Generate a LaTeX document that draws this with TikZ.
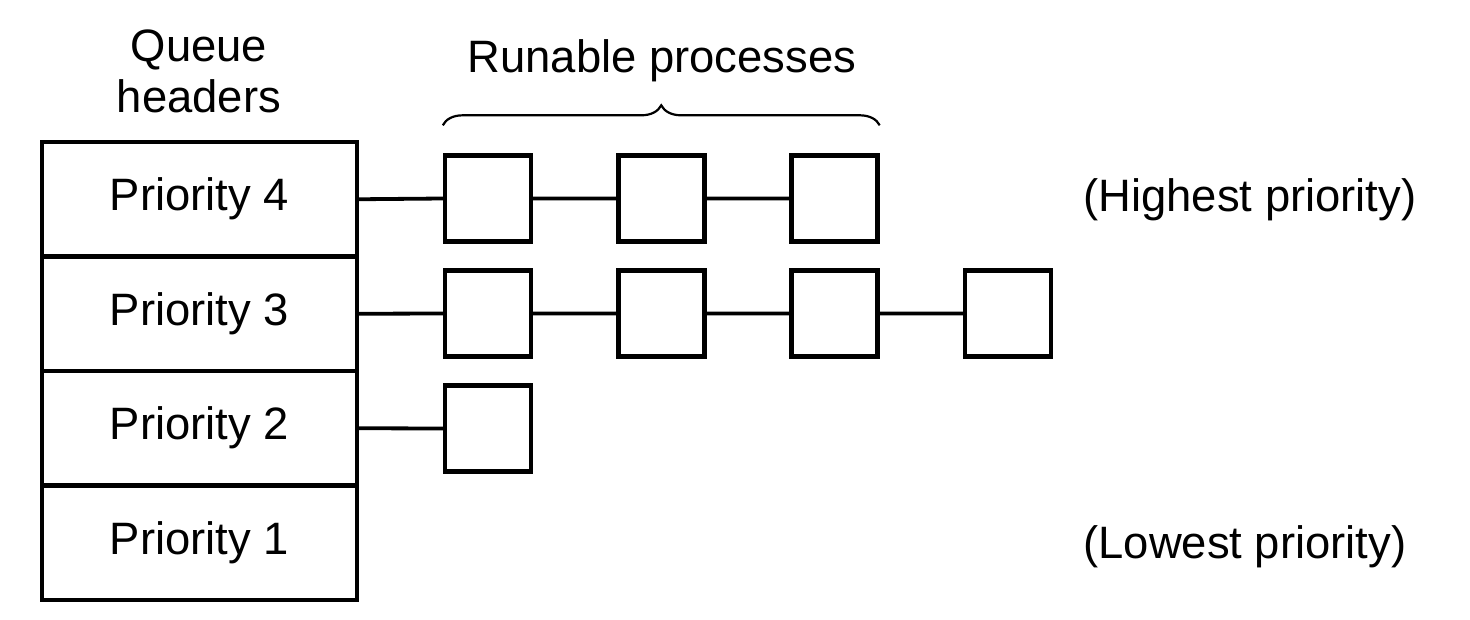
\documentclass[tikz,border=0pt]{standalone}
\usepackage{fontspec}
\setmainfont{Liberation Sans}
\usetikzlibrary{decorations.pathreplacing}
\begin{document}
\begin{tikzpicture}[x=0.5pt,y=-0.5pt,
  every node/.style={font=\fontsize{22.7pt}{25.5pt}\selectfont},
  header/.style={draw, line width=2.2pt, inner sep=0pt, minimum width=157.5pt, minimum height=57.25pt},
  proc/.style={draw, line width=2.2pt, inner sep=0pt, minimum width=43pt, minimum height=43pt},
  link/.style={line width=1.9pt},
  caption/.style={inner sep=0pt, anchor=base},
  sidenote/.style={inner sep=0pt, anchor=base west}]
\useasboundingbox (0,0) rectangle (1470,620);

% queue headers
\node[header] (h4) at (199.5,199.25) {Priority 4};
\node[header] (h3) at (199.5,313.75) {Priority 3};
\node[header] (h2) at (199.5,428.25) {Priority 2};
\node[header] (h1) at (199.5,542.75) {Priority 1};

% runnable processes
\node[proc] (p4a) at (488,198.5) {};
\node[proc] (p4b) at (661.5,198.5) {};
\node[proc] (p4c) at (834.5,198.5) {};
\node[proc] (p3a) at (488,313.5) {};
\node[proc] (p3b) at (661.5,313.5) {};
\node[proc] (p3c) at (834.5,313.5) {};
\node[proc] (p3d) at (1008,313.5) {};
\node[proc] (p2a) at (488,428.5) {};

% links
\draw[link] (h4.east) -- (p4a.west) (p4a.east) -- (p4b.west) (p4b.east) -- (p4c.west);
\draw[link] (h3.east) -- (p3a.west) (p3a.east) -- (p3b.west) (p3b.east) -- (p3c.west)
            (p3c.east) -- (p3d.west);
\draw[link] (h2.east) -- (p2a.west);

% labels (base of a two-line node is its last line)
\node[caption, align=center] (qh) at (199,113) {Queue\\headers};
\node[caption] (rp) at (662,73) {Runable processes};
\draw[line width=1.1pt, decorate, decoration={brace, amplitude=10pt}]
  ([yshift=14pt]p4a.north west) -- ([yshift=14pt]p4c.north east);

\node[sidenote] (hi) at (1083,212) {(Highest priority)};
\node[sidenote] (lo) at (1083,558) {(Lowest priority)};
\end{tikzpicture}
\end{document}
